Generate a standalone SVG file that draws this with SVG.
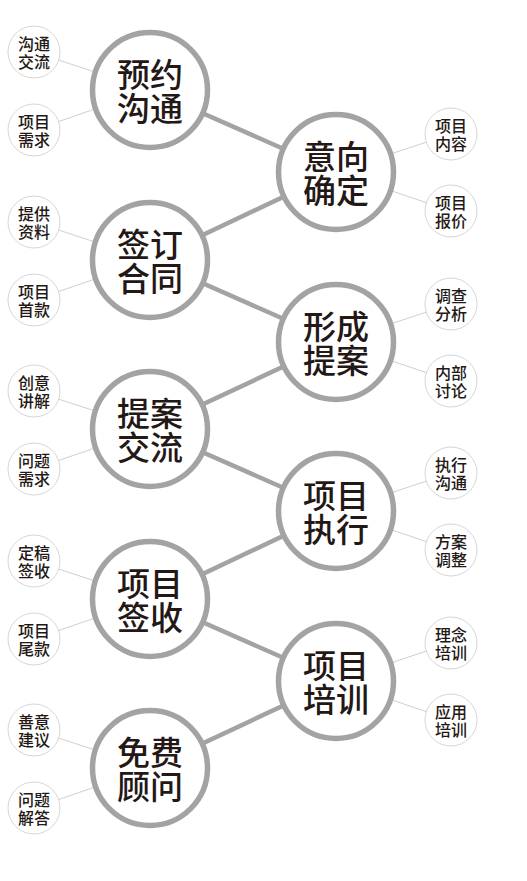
<svg xmlns="http://www.w3.org/2000/svg" width="527" height="881" viewBox="0 0 527 881">
<style>
.main{stroke:#a3a3a3;stroke-width:4.5;fill:none}
.thin{stroke:#cfcfcf;stroke-width:1;fill:none}
.big circle{fill:#fff;stroke:#a3a3a3;stroke-width:5.5}
.small circle{fill:#fff;stroke:#d6d6d6;stroke-width:1}
.bt{font-family:"Noto Sans CJK SC","Noto Sans",sans-serif;font-size:33px;font-weight:500;fill:#231815;text-anchor:middle}
.st{font-family:"Noto Sans CJK SC","Noto Sans",sans-serif;font-size:16px;font-weight:500;fill:#231815;text-anchor:middle}
</style>
<rect width="527" height="881" fill="#fff"/>
<g id="connectors">
<path class="main" d="M150 90L336 172L150 260L336 342L150 429L336 511L150 599L336 681L150 768"/>
<path class="thin" d="M150 90L34 52M150 90L34 130M150 260L34 222M150 260L34 300M150 429L34 391M150 429L34 469M150 599L34 561M150 599L34 639M150 768L34 730M150 768L34 808"/>
<path class="thin" d="M336 172L451 134M336 172L451 211M336 342L451 304M336 342L451 381M336 511L451 473M336 511L451 550M336 681L451 643M336 681L451 720"/>
</g>
<g id="n1" class="big"><circle cx="150" cy="90" r="57.5"/><text class="bt" x="150" y="87">预约</text><text class="bt" x="150" y="121">沟通</text></g>
<g id="n2" class="big"><circle cx="336" cy="172" r="57.5"/><text class="bt" x="336" y="169">意向</text><text class="bt" x="336" y="203">确定</text></g>
<g id="n3" class="big"><circle cx="150" cy="260" r="57.5"/><text class="bt" x="150" y="257">签订</text><text class="bt" x="150" y="291">合同</text></g>
<g id="n4" class="big"><circle cx="336" cy="342" r="57.5"/><text class="bt" x="336" y="339">形成</text><text class="bt" x="336" y="373">提案</text></g>
<g id="n5" class="big"><circle cx="150" cy="429" r="57.5"/><text class="bt" x="150" y="426">提案</text><text class="bt" x="150" y="460">交流</text></g>
<g id="n6" class="big"><circle cx="336" cy="511" r="57.5"/><text class="bt" x="336" y="508">项目</text><text class="bt" x="336" y="542">执行</text></g>
<g id="n7" class="big"><circle cx="150" cy="599" r="57.5"/><text class="bt" x="150" y="596">项目</text><text class="bt" x="150" y="630">签收</text></g>
<g id="n8" class="big"><circle cx="336" cy="681" r="57.5"/><text class="bt" x="336" y="678">项目</text><text class="bt" x="336" y="712">培训</text></g>
<g id="n9" class="big"><circle cx="150" cy="768" r="57.5"/><text class="bt" x="150" y="765">免费</text><text class="bt" x="150" y="799">顾问</text></g>

<g id="s1a" class="small"><circle cx="34" cy="52" r="26"/><text class="st" x="34" y="50">沟通</text><text class="st" x="34" y="68">交流</text></g>
<g id="s1b" class="small"><circle cx="34" cy="130" r="26"/><text class="st" x="34" y="128">项目</text><text class="st" x="34" y="146">需求</text></g>
<g id="s3a" class="small"><circle cx="34" cy="222" r="26"/><text class="st" x="34" y="220">提供</text><text class="st" x="34" y="238">资料</text></g>
<g id="s3b" class="small"><circle cx="34" cy="300" r="26"/><text class="st" x="34" y="298">项目</text><text class="st" x="34" y="316">首款</text></g>
<g id="s5a" class="small"><circle cx="34" cy="391" r="26"/><text class="st" x="34" y="389">创意</text><text class="st" x="34" y="407">讲解</text></g>
<g id="s5b" class="small"><circle cx="34" cy="469" r="26"/><text class="st" x="34" y="467">问题</text><text class="st" x="34" y="485">需求</text></g>
<g id="s7a" class="small"><circle cx="34" cy="561" r="26"/><text class="st" x="34" y="559">定稿</text><text class="st" x="34" y="577">签收</text></g>
<g id="s7b" class="small"><circle cx="34" cy="639" r="26"/><text class="st" x="34" y="637">项目</text><text class="st" x="34" y="655">尾款</text></g>
<g id="s9a" class="small"><circle cx="34" cy="730" r="26"/><text class="st" x="34" y="728">善意</text><text class="st" x="34" y="746">建议</text></g>
<g id="s9b" class="small"><circle cx="34" cy="808" r="26"/><text class="st" x="34" y="806">问题</text><text class="st" x="34" y="824">解答</text></g>

<g id="s2a" class="small"><circle cx="451" cy="134" r="26"/><text class="st" x="451" y="132">项目</text><text class="st" x="451" y="150">内容</text></g>
<g id="s2b" class="small"><circle cx="451" cy="211" r="26"/><text class="st" x="451" y="209">项目</text><text class="st" x="451" y="227">报价</text></g>
<g id="s4a" class="small"><circle cx="451" cy="304" r="26"/><text class="st" x="451" y="302">调查</text><text class="st" x="451" y="320">分析</text></g>
<g id="s4b" class="small"><circle cx="451" cy="381" r="26"/><text class="st" x="451" y="379">内部</text><text class="st" x="451" y="397">讨论</text></g>
<g id="s6a" class="small"><circle cx="451" cy="473" r="26"/><text class="st" x="451" y="471">执行</text><text class="st" x="451" y="489">沟通</text></g>
<g id="s6b" class="small"><circle cx="451" cy="550" r="26"/><text class="st" x="451" y="548">方案</text><text class="st" x="451" y="566">调整</text></g>
<g id="s8a" class="small"><circle cx="451" cy="643" r="26"/><text class="st" x="451" y="641">理念</text><text class="st" x="451" y="659">培训</text></g>
<g id="s8b" class="small"><circle cx="451" cy="720" r="26"/><text class="st" x="451" y="718">应用</text><text class="st" x="451" y="736">培训</text></g>
</svg>
